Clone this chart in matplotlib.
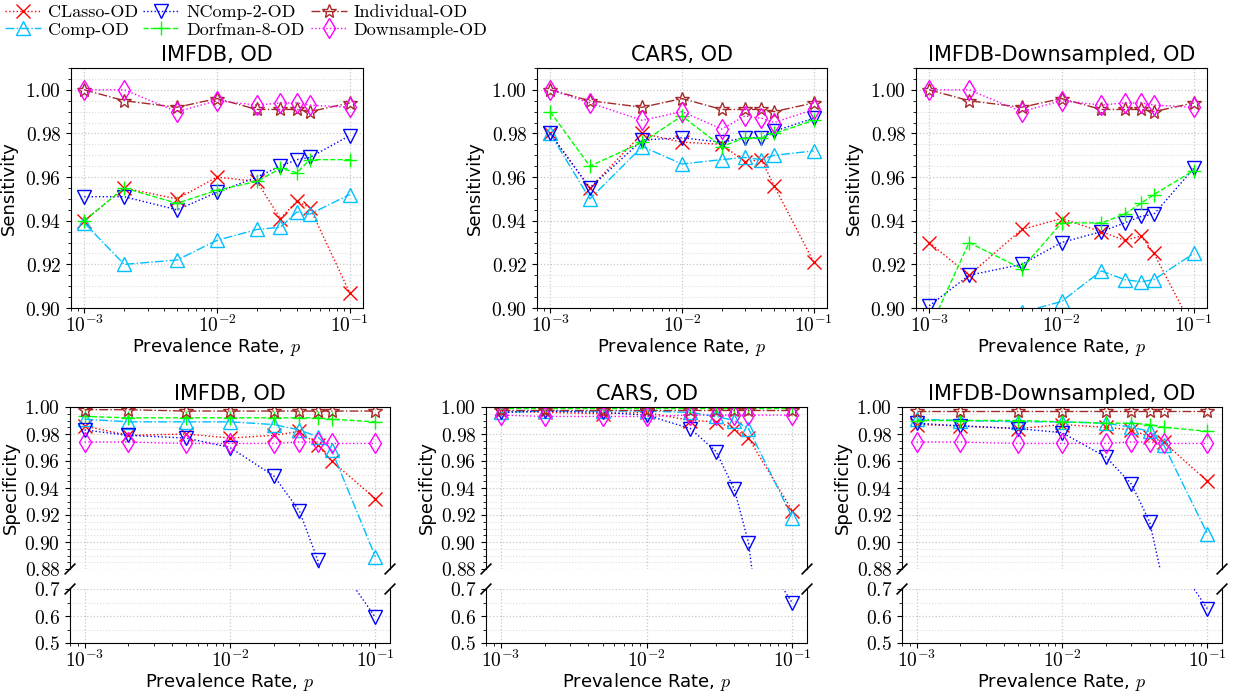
import math
import matplotlib
matplotlib.use("Agg")
import matplotlib.pyplot as plt
from matplotlib.ticker import FuncFormatter, MultipleLocator, LogLocator, NullFormatter

plt.rcParams['mathtext.fontset'] = 'cm'
plt.rcParams['font.family'] = 'DejaVu Sans'
plt.rcParams['axes.unicode_minus'] = False

x = [0.001, 0.002, 0.005, 0.01, 0.02, 0.03, 0.04, 0.05, 0.1]

methods = ["CLasso-OD", "Comp-OD", "NComp-2-OD", "Dorfman-8-OD", "Individual-OD", "Downsample-OD"]
colors = ["red", "deepskyblue", "blue", "lime", "brown", "magenta"]
styles = [":", "-.", ":", "--", "-.", ":"]
markers = ["x", "^", "v", "+", "*", "d"]

titles = ["IMFDB, OD", "CARS, OD", "IMFDB-Downsampled, OD"]

# sensitivity (top row)
sens_imfdb = {
    "CLasso-OD": [0.940, 0.955, 0.950, 0.960, 0.958, 0.941, 0.949, 0.946, 0.907],
    "Comp-OD": [0.939, 0.920, 0.922, 0.931, 0.936, 0.937, 0.944, 0.943, 0.952],
    "NComp-2-OD": [0.951, 0.951, 0.945, 0.953, 0.960, 0.965, 0.968, 0.969, 0.979],
    "Dorfman-8-OD": [0.940, 0.955, 0.948, 0.954, 0.958, 0.964, 0.962, 0.968, 0.968],
    "Individual-OD": [1.000, 0.995, 0.992, 0.996, 0.991, 0.991, 0.991, 0.990, 0.994],
    "Downsample-OD": [1.000, 1.000, 0.990, 0.995, 0.993, 0.994, 0.994, 0.993, 0.992],
}
sens_cars = {
    "CLasso-OD": [0.980, 0.955, 0.980, 0.976, 0.975, 0.967, 0.968, 0.956, 0.921],
    "Comp-OD": [0.980, 0.950, 0.974, 0.966, 0.968, 0.969, 0.968, 0.970, 0.972],
    "NComp-2-OD": [0.980, 0.955, 0.977, 0.978, 0.976, 0.978, 0.978, 0.981, 0.987],
    "Dorfman-8-OD": [0.990, 0.965, 0.976, 0.988, 0.974, 0.978, 0.978, 0.980, 0.986],
    "Individual-OD": [1.000, 0.995, 0.992, 0.996, 0.991, 0.991, 0.991, 0.990, 0.994],
    "Downsample-OD": [1.000, 0.994, 0.986, 0.990, 0.982, 0.988, 0.987, 0.985, 0.991],
}
sens_down = {
    "CLasso-OD": [0.930, 0.915, 0.936, 0.941, 0.935, 0.931, 0.933, 0.925, 0.890],
    "Comp-OD": [0.880, 0.885, 0.898, 0.903, 0.917, 0.913, 0.912, 0.913, 0.925],
    "NComp-2-OD": [0.901, 0.915, 0.920, 0.930, 0.935, 0.939, 0.942, 0.943, 0.964],
    "Dorfman-8-OD": [0.890, 0.930, 0.918, 0.939, 0.939, 0.943, 0.948, 0.952, 0.963],
    "Individual-OD": [1.000, 0.995, 0.992, 0.996, 0.991, 0.991, 0.991, 0.990, 0.994],
    "Downsample-OD": [1.000, 1.000, 0.990, 0.995, 0.993, 0.994, 0.994, 0.993, 0.992],
}

# specificity (bottom row)
spec_imfdb = {
    "CLasso-OD": [0.986, 0.979, 0.980, 0.977, 0.979, 0.982, 0.972, 0.960, 0.932],
    "Comp-OD": [0.991, 0.989, 0.989, 0.989, 0.987, 0.983, 0.978, 0.968, 0.889],
    "NComp-2-OD": [0.983, 0.979, 0.977, 0.970, 0.949, 0.923, 0.887, 0.826, 0.595],
    "Dorfman-8-OD": [0.993, 0.992, 0.992, 0.992, 0.992, 0.992, 0.992, 0.991, 0.989],
    "Individual-OD": [0.998, 0.998, 0.997, 0.997, 0.997, 0.997, 0.997, 0.997, 0.997],
    "Downsample-OD": [0.974, 0.974, 0.973, 0.973, 0.973, 0.974, 0.974, 0.973, 0.973],
}
spec_cars = {
    "CLasso-OD": [0.997, 0.996, 0.995, 0.996, 0.990, 0.989, 0.984, 0.977, 0.923],
    "Comp-OD": [0.996, 0.997, 0.997, 0.997, 0.996, 0.993, 0.990, 0.984, 0.918],
    "NComp-2-OD": [0.996, 0.997, 0.996, 0.994, 0.984, 0.967, 0.939, 0.8995, 0.648],
    "Dorfman-8-OD": [0.999, 0.999, 0.999, 0.999, 0.999, 0.999, 0.999, 0.999, 0.999],
    "Individual-OD": [0.998, 0.998, 0.998, 0.998, 0.998, 0.998, 0.998, 0.998, 0.998],
    "Downsample-OD": [0.994, 0.993, 0.993, 0.993, 0.994, 0.994, 0.994, 0.994, 0.994],
}
spec_down = {
    "CLasso-OD": [0.987, 0.986, 0.984, 0.987, 0.985, 0.983, 0.978, 0.974, 0.945],
    "Comp-OD": [0.991, 0.990, 0.989, 0.989, 0.988, 0.985, 0.982, 0.972, 0.906],
    "NComp-2-OD": [0.988, 0.986, 0.984, 0.981, 0.963, 0.943, 0.915, 0.868, 0.626],
    "Dorfman-8-OD": [0.990, 0.990, 0.990, 0.989, 0.988, 0.988, 0.987, 0.985, 0.982],
    "Individual-OD": [0.997, 0.997, 0.997, 0.997, 0.997, 0.997, 0.997, 0.997, 0.997],
    "Downsample-OD": [0.974, 0.974, 0.973, 0.973, 0.973, 0.974, 0.974, 0.973, 0.973],
}

sens_all = [sens_imfdb, sens_cars, sens_down]
spec_all = [spec_imfdb, spec_cars, spec_down]

W, H = 1234, 693
fig = plt.figure(figsize=(W / 100, H / 100), dpi=100)


def box(l, t, r, b):
    return [l / W, 1 - b / H, (r - l) / W, (b - t) / H]


top_boxes = [(71, 68, 363, 308), (537, 68, 827, 308), (916, 68, 1207, 308)]
bot_lr = [(70, 390), (486, 807), (902, 1222)]

logfmt = FuncFormatter(lambda v, p: r"$10^{%d}$" % round(math.log10(v)))
yfmt2 = FuncFormatter(lambda v, p: r"$%.2f$" % v)
yfmt1 = FuncFormatter(lambda v, p: r"$%.1f$" % v)


def draw(ax, data):
    handles = []
    for m, c, ls, mk in zip(methods, colors, styles, markers):
        face = "none" if mk in ("^", "v", "*", "d") else c
        h, = ax.plot(x, data[m], color=c, linestyle=ls, linewidth=1.0,
                     marker=mk, markersize=10, markerfacecolor=face,
                     markeredgecolor=c, markeredgewidth=1.0, label=m)
        handles.append(h)
    return handles


def style(ax):
    ax.set_xscale("log")
    ax.set_xlim(10 ** -3.1, 10 ** -0.9)
    ax.xaxis.set_major_locator(LogLocator(base=10, numticks=10))
    ax.xaxis.set_major_formatter(logfmt)
    ax.xaxis.set_minor_formatter(NullFormatter())
    ax.grid(True, which="major", linestyle=":", color="#c8c8c8", linewidth=0.9)
    ax.grid(True, which="minor", axis="y", linestyle=":", color="#dddddd", linewidth=0.8)
    ax.tick_params(labelsize=14)
    ax.tick_params(axis="x", which="major", pad=1.5)


handles = None
for i in range(3):
    ax = fig.add_axes(box(*top_boxes[i]))
    handles = draw(ax, sens_all[i])
    style(ax)
    ax.set_ylim(0.90, 1.01)
    ax.yaxis.set_major_locator(MultipleLocator(0.02))
    ax.yaxis.set_minor_locator(MultipleLocator(0.005))
    ax.yaxis.set_major_formatter(yfmt2)
    ax.set_title(titles[i], fontsize=15, pad=5)
    ax.set_ylabel("Sensitivity", fontsize=13, labelpad=5)
    ax.set_xlabel("Prevalence Rate, $p$", fontsize=13, labelpad=0)

d = 0.015
for i in range(3):
    l, r = bot_lr[i]
    ax1 = fig.add_axes(box(l, 407, r, 569))
    ax2 = fig.add_axes(box(l, 589, r, 643), sharex=ax1)
    for a in (ax1, ax2):
        draw(a, spec_all[i])
        style(a)
    ax1.set_ylim(0.88, 1.0)
    ax1.yaxis.set_major_locator(MultipleLocator(0.02))
    ax1.yaxis.set_minor_locator(MultipleLocator(0.005))
    ax1.yaxis.set_major_formatter(yfmt2)
    ax2.set_ylim(0.5, 0.7)
    ax2.yaxis.set_major_locator(MultipleLocator(0.1))
    ax2.yaxis.set_minor_locator(MultipleLocator(0.05))
    ax2.yaxis.set_major_formatter(yfmt1)
    ax1.spines["bottom"].set_visible(False)
    ax2.spines["top"].set_visible(False)
    ax1.tick_params(axis="x", which="both", bottom=False, labelbottom=False)
    ax1.set_title(titles[i], fontsize=15, pad=5)
    ax1.set_ylabel("Specificity", fontsize=13, labelpad=3)
    ax2.set_xlabel("Prevalence Rate, $p$", fontsize=13, labelpad=0)
    # break marks
    r2 = (569 - 407) / (643 - 589)
    kw = dict(color="k", clip_on=False, linewidth=1.2)
    ax1.plot((-d, d), (-d * 2, d * 2), transform=ax1.transAxes, **kw)
    ax1.plot((1 - d, 1 + d), (-d * 2, d * 2), transform=ax1.transAxes, **kw)
    ax2.plot((-d, d), (1 - d * 2 * r2, 1 + d * 2 * r2), transform=ax2.transAxes, **kw)
    ax2.plot((1 - d, 1 + d), (1 - d * 2 * r2, 1 + d * 2 * r2), transform=ax2.transAxes, **kw)

fig.legend(handles=handles, labels=methods, loc="upper left", bbox_to_anchor=(0.0, 1.0),
           ncol=3, frameon=False, prop={"family": "cmr10", "size": 13},
           handlelength=2.0, handletextpad=0.4, columnspacing=0.3,
           labelspacing=0.1, borderpad=0.15, borderaxespad=0.1)

fig.savefig("out.png", dpi=100)
